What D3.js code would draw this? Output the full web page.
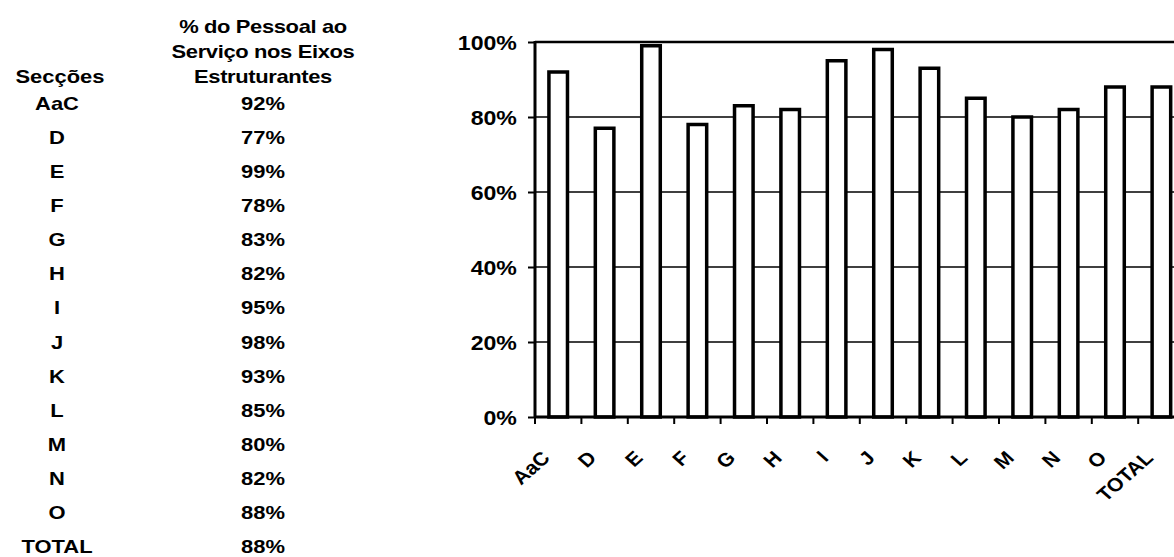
<!DOCTYPE html>
<html>
<head>
<meta charset="utf-8">
<script src="https://cdn.jsdelivr.net/npm/d3@7"></script>
<style>
  body { margin: 0; background: #fff; }
  text { font-family: "Liberation Sans", Arial, sans-serif; font-weight: bold; fill: #000; }
</style>
</head>
<body>
<div class="chart"></div>
<script>
const sections = ["AaC", "D", "E", "F", "G", "H", "I", "J", "K", "L", "M", "N", "O", "TOTAL"];
const shares = [0.92, 0.77, 0.99, 0.78, 0.83, 0.82, 0.95, 0.98, 0.93, 0.85, 0.80, 0.82, 0.88, 0.88];
const yTicks = [0, 0.2, 0.4, 0.6, 0.8, 1];
const headerCol1 = "Secções";
const headerCol2 = ["% do Pessoal ao", "Serviço nos Eixos", "Estruturantes"];

const width = 1174;
const height = 557;
const svg = d3.select('.chart').append('svg').attr('width', width).attr('height', height);

// ---- table on the left ----
const table = svg.append('g');
const rowY = d3.scalePoint().domain(sections).range([110, 553]);
const fmt = d3.format(".0%");
const sx = 1.22;

table.append('text')
    .attr('transform', `translate(60,83) scale(${sx},1)`)
    .attr('text-anchor', 'middle').attr('font-size', 18)
    .text(headerCol1);

table.selectAll('.hdr').data(headerCol2).enter().append('text')
    .attr('class', 'hdr')
    .attr('transform', (d, i) => `translate(263,${33 + i * 25}) scale(${sx},1)`)
    .attr('text-anchor', 'middle').attr('font-size', 18)
    .attr('letter-spacing', -0.3)
    .text(d => d);

table.selectAll('.sec').data(sections).enter().append('text')
    .attr('class', 'sec')
    .attr('transform', d => `translate(57,${rowY(d)}) scale(${sx},1)`)
    .attr('text-anchor', 'middle').attr('font-size', 18)
    .text(d => d);

table.selectAll('.val').data(shares).enter().append('text')
    .attr('class', 'val')
    .attr('transform', (d, i) => `translate(263,${rowY(sections[i])}) scale(${sx},1)`)
    .attr('text-anchor', 'middle').attr('font-size', 18)
    .text(d => fmt(d));

// ---- bar chart ----
const plotLeft = 535, plotRight = 1184.6, plotTop = 42, plotBottom = 417;
const x = d3.scaleBand().domain(sections).range([plotLeft, plotRight]).paddingInner(0.6).paddingOuter(0.3);
const y = d3.scaleLinear().domain([0, 1]).range([plotBottom, plotTop]);
const g = svg.append('g');

// gridlines
g.selectAll('.grid').data(yTicks.filter(d => d > 0)).enter().append('line')
    .attr('x1', plotLeft).attr('x2', plotRight)
    .attr('y1', d => y(d)).attr('y2', d => y(d))
    .attr('stroke', '#000').attr('stroke-width', d => d === 1 ? 2.5 : 1.5);

// bars
g.selectAll('rect').data(shares).enter().append('rect')
    .attr('x', (d, i) => x(sections[i]))
    .attr('y', d => y(d))
    .attr('width', x.bandwidth())
    .attr('height', d => plotBottom - y(d))
    .attr('fill', '#fff').attr('stroke', '#000').attr('stroke-width', 3.5);

// y axis
const yAxis = g.append('g').attr('transform', `translate(${plotLeft},0)`)
    .call(d3.axisLeft(y).tickValues(yTicks).tickSize(7).tickPadding(9.5).tickFormat(fmt));
yAxis.select('.domain').remove();
yAxis.selectAll('line').attr('stroke', '#000').attr('stroke-width', 2);
yAxis.selectAll('text')
    .attr('font-size', 21).attr('font-family', '"Liberation Sans", Arial, sans-serif')
    .attr('font-weight', 'bold').attr('fill', '#000')
    .attr('dy', '0.36em')
    .attr('transform', 'scale(1.1,1)');

g.append('line').attr('x1', plotLeft).attr('x2', plotLeft).attr('y1', plotTop - 1).attr('y2', plotBottom + 1)
    .attr('stroke', '#000').attr('stroke-width', 3);
g.append('line').attr('x1', plotLeft).attr('x2', plotRight).attr('y1', plotBottom).attr('y2', plotBottom)
    .attr('stroke', '#000').attr('stroke-width', 3);

// x ticks at category boundaries
const step = x.step();
g.selectAll('.xtick').data(sections).enter().append('line')
    .attr('x1', d => x(d) - step * 0.3).attr('x2', d => x(d) - step * 0.3)
    .attr('y1', plotBottom).attr('y2', plotBottom + 7)
    .attr('stroke', '#000').attr('stroke-width', 2);

// rotated category labels
g.selectAll('.xlab').data(sections).enter().append('text')
    .attr('transform', d => `translate(${x(d) + x.bandwidth() / 2 - 7},${plotBottom + 42}) scale(1.12,1) rotate(-45)`)
    .attr('text-anchor', 'end').attr('font-size', 19)
    .text(d => d);
</script>
</body>
</html>
